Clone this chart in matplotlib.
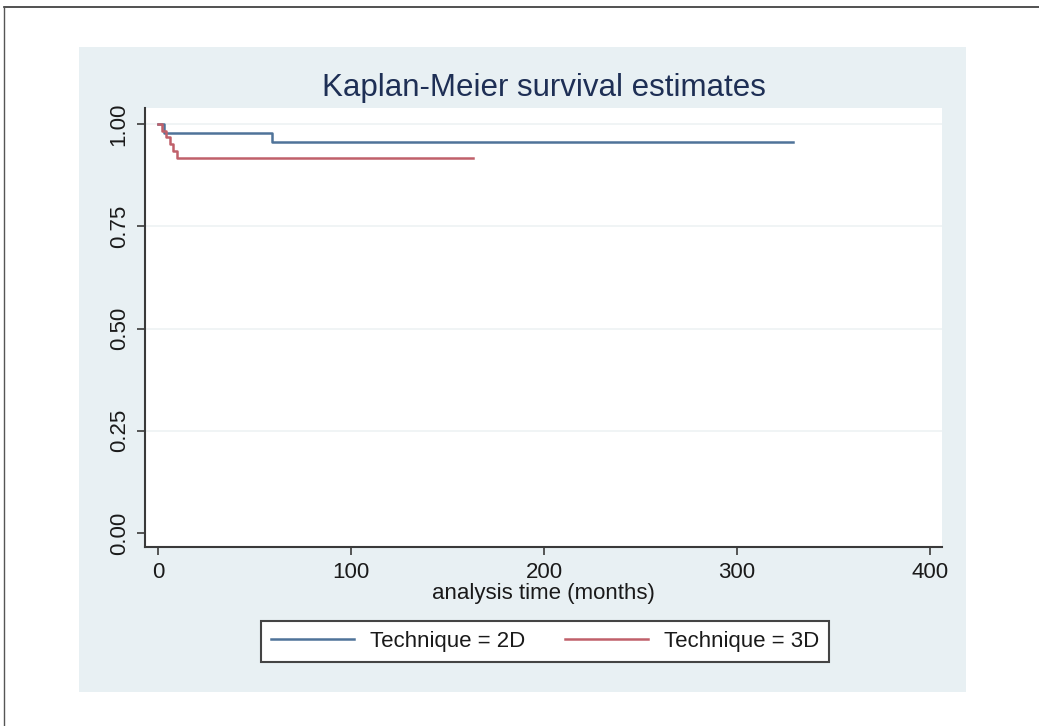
import matplotlib
matplotlib.use("Agg")
import matplotlib.pyplot as plt
from matplotlib.patches import Rectangle
from matplotlib.lines import Line2D

# Kaplan-Meier step data (time in months, survival)
time_2d = [0, 3, 59, 329]
surv_2d = [1.0, 0.978, 0.956, 0.956]
time_3d = [0, 2, 4, 6, 8, 10, 163]
surv_3d = [1.0, 0.983, 0.967, 0.950, 0.933, 0.917, 0.917]

labels = ["Technique = 2D", "Technique = 3D"]
xticks = [0, 100, 200, 300, 400]
yticks = [0.0, 0.25, 0.50, 0.75, 1.00]
ytick_labels = ["0.00", "0.25", "0.50", "0.75", "1.00"]

plt.rcParams['font.family'] = ['Liberation Sans', 'DejaVu Sans']

W, H = 1039, 726
fig = plt.figure(figsize=(W / 100, H / 100), dpi=100)
fig.patch.set_facecolor("white")

# outer frame lines (top and left)
fig.add_artist(Line2D([4 / W, 1.0], [1 - 7 / H, 1 - 7 / H], color="#333333", lw=1.2,
                      transform=fig.transFigure))
fig.add_artist(Line2D([4 / W, 4 / W], [0, 1 - 7 / H], color="#555555", lw=1.0,
                      transform=fig.transFigure))

# graph region background
fig.add_artist(Rectangle((79 / W, 1 - 692 / H), (966 - 79) / W, (692 - 47) / H,
                         facecolor="#e8f0f3", edgecolor="none", transform=fig.transFigure,
                         zorder=0))

ax = fig.add_axes([145 / W, 1 - 547 / H, (942 - 145) / W, (547 - 108) / H])
ax.set_facecolor("white")

c2 = "#4f7399"
c3 = "#c0606a"
ax.step(time_2d, surv_2d, where="post", color=c2, lw=1.8, label=labels[0], zorder=3)
ax.step(time_3d, surv_3d, where="post", color=c3, lw=1.8, label=labels[1], zorder=3)

ax.set_xlim(-6.74, 406.2)
ax.set_ylim(-0.034, 1.039)
ax.set_xticks(xticks)
ax.set_yticks(yticks)
ax.set_yticklabels(ytick_labels, rotation=90, va="center")
for y in yticks[1:]:
    ax.axhline(y, color="#eef2f4", lw=1.2, zorder=1)

for s in ["top", "right"]:
    ax.spines[s].set_visible(False)
for s in ["left", "bottom"]:
    ax.spines[s].set_color("#3a3a3a")
    ax.spines[s].set_linewidth(1.5)
ax.tick_params(axis="both", direction="out", length=6, width=1.2, color="#3a3a3a",
               labelsize=16, labelcolor="#1a1a1a", pad=5)

ax.set_xlabel("analysis time (months)", fontsize=16, color="#1a1a1a", labelpad=0)

fig.text(544 / W, 1 - 88 / H, "Kaplan-Meier survival estimates", ha="center", va="center",
         fontsize=22.5, color="#1e2f55")

leg = fig.legend(loc="center", bbox_to_anchor=(545 / W, 1 - 641 / H), ncol=2,
                 fontsize=16, frameon=True, fancybox=False, edgecolor="#444444",
                 facecolor="white", framealpha=1.0,
                 handlelength=3.75, columnspacing=1.8, handletextpad=0.7,
                 borderpad=0.45, borderaxespad=0)
leg.get_frame().set_linewidth(1.5)
for t in leg.get_texts():
    t.set_color("#1a1a1a")

fig.savefig("out.png", dpi=100, facecolor="white")
